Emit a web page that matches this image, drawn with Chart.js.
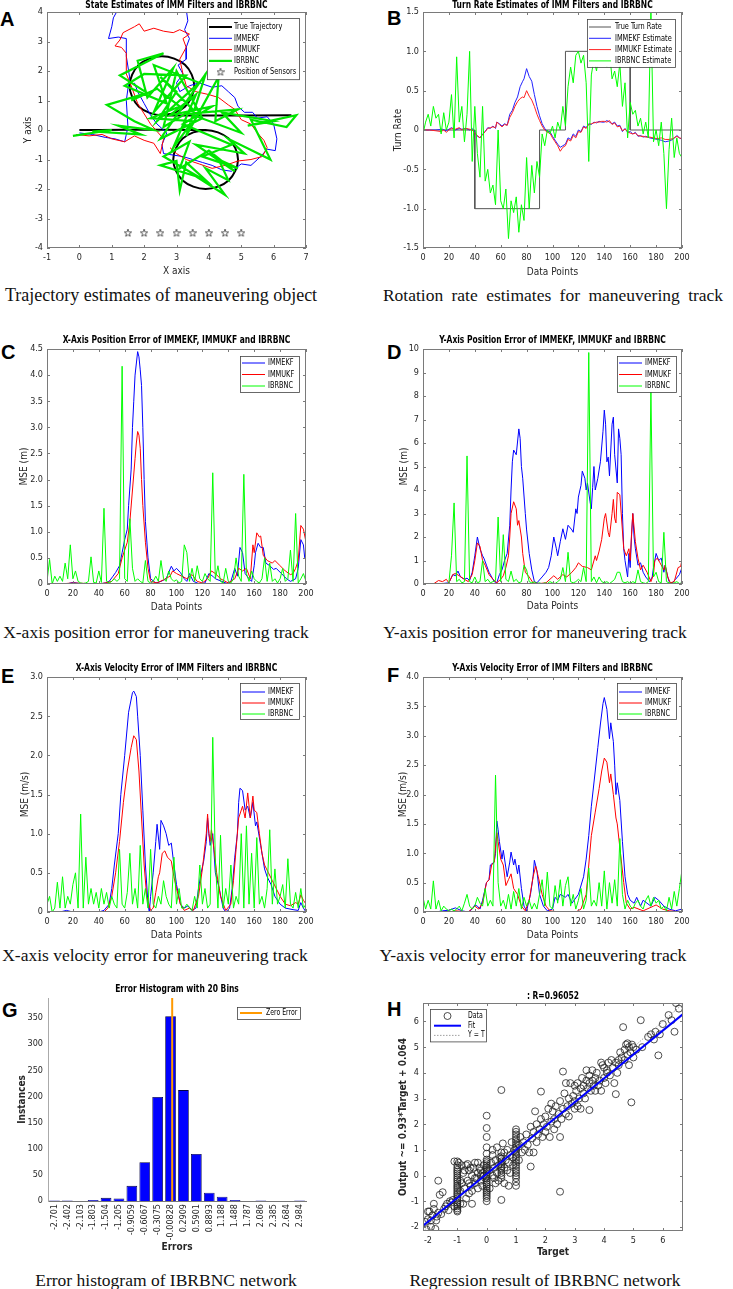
<!DOCTYPE html>
<html>
<head>
<meta charset="utf-8">
<script src="https://cdn.jsdelivr.net/npm/chart.js@4.4.1/dist/chart.umd.min.js"></script>
<style>
body { margin: 0; background: #fff; width: 733px; height: 1289px; position: relative; overflow: hidden; }
canvas { position: absolute; }
.cap { position: absolute; width: 366px; text-align: center; font: 17.5px 'Liberation Serif', 'Times New Roman', serif; color: #111; line-height: 20px; white-space: nowrap; }
.tag { position: absolute; font: bold 20px 'Liberation Sans', Arial, sans-serif; line-height: 20px; color: #000; }
</style>
</head>
<body>
<div class="tag" style="left:0px;top:9px">A</div>
<div class="tag" style="left:387px;top:8px">B</div>
<div class="tag" style="left:1px;top:342px">C</div>
<div class="tag" style="left:387px;top:342px">D</div>
<div class="tag" style="left:1px;top:666px">E</div>
<div class="tag" style="left:387px;top:665px">F</div>
<div class="tag" style="left:2px;top:1000px">G</div>
<div class="tag" style="left:387px;top:999px">H</div>

<div class="cap" style="left:-22px;top:285px;font-size:18px">Trajectory estimates of maneuvering object</div>
<div class="cap" style="left:370px;top:285px;word-spacing:4px">Rotation rate estimates for maneuvering track</div>
<div class="cap" style="left:-27px;top:622px">X-axis position error for maneuvering track</div>
<div class="cap" style="left:352px;top:622px">Y-axis position error for maneuvering track</div>
<div class="cap" style="left:-28px;top:945px">X-axis velocity error for maneuvering track</div>
<div class="cap" style="left:350px;top:945px;font-size:17.7px">Y-axis velocity error for maneuvering track</div>
<div class="cap" style="left:-17px;top:1270px">Error histogram of IBRBNC network</div>
<div class="cap" style="left:362px;top:1270px">Regression result of IBRBNC network</div>

<script>
// ---------- A: state estimates (x, y pairs, null = gap) ----------
const trueTrajectory = [[0,0],[3.9,0],[4.28,-0.08],[4.61,-0.29],[4.82,-0.62],[4.9,-1],[4.82,-1.38],[4.61,-1.71],[4.28,-1.92],[3.9,-2],[3.52,-1.92],[3.19,-1.71],[2.98,-1.38],[2.9,-1],[2.98,-0.62],[3.19,-0.29],[3.52,-0.08],[3.9,0],null,
  [2.55,0.5],[2.93,0.58],[3.26,0.79],[3.47,1.12],[3.55,1.5],[3.47,1.88],[3.26,2.21],[2.93,2.42],[2.55,2.5],[2.17,2.42],[1.84,2.21],[1.63,1.88],[1.55,1.5],[1.63,1.12],[1.84,0.79],[2.17,0.58],[2.55,0.5],[6.55,0.5]];
const ekfTrack = [[0,-0.1],[0.4,-0.15],[0.8,-0.25],[1.1,-0.3],[1.4,-0.4],[1.5,0.1],[1.45,1.0],[1.55,1.8],[1.45,2.5],[1.45,3.1],[1.2,3.15],[0.9,3.1],[1.0,3.5],[1.05,3.8],[1.2,4.1],[1.35,4.3],[2.5,4.5],[3.3,4.1],[3.35,3.7],[3.25,3.4],[3.4,3.1],[3.3,2.8],[3.3,2.4],[3.05,2.2],[3.2,1.9],[3.0,1.6],[3.1,1.3],[3.4,1.5],[3.7,1.6],[4.1,1.45],[4.4,1.5],[4.6,1.3],[4.8,1.1],[4.9,0.8],[5.1,0.6],[5.35,0.6],[5.5,0.4],[5.8,0.45],[6.0,0.2],[6.1,-0.3],[6.05,-0.7],[5.8,-0.65],[5.6,-0.9],[5.3,-1.2],[5.0,-1.15],[4.7,-1.4],[4.4,-1.35],[4.1,-1.2],[3.8,-1.1],[3.5,-1.0],[3.2,-0.9],[2.9,-0.85],[2.6,-0.8],[2.55,-0.5],[2.7,-0.1],[2.4,0.2],[2.2,0.5],[2.0,0.9],[1.8,1.3],[1.7,1.6]];
const ukfTrack = [[-0.1,-0.15],[0.3,-0.2],[0.7,-0.15],[1.0,-0.3],[1.4,-0.4],[1.7,-0.2],[2.0,-0.35],[2.3,-0.45],[2.5,-0.8],[2.6,-0.3],[2.2,0.2],[1.8,0.9],[1.6,1.5],[1.45,1.9],[1.45,2.6],[1.3,2.8],[1.1,2.85],[1.25,3.05],[1.35,3.3],[1.7,3.5],[1.85,3.6],[2.0,3.35],[2.3,3.45],[2.6,3.35],[2.9,3.3],[3.1,3.4],[3.4,3.25],[3.2,3.1],[3.3,2.8],[3.1,2.4],[3.2,1.9],[3.3,1.5],[3.6,1.3],[4.0,1.2],[4.3,1.1],[4.6,0.85],[4.8,0.7],[5.0,0.35],[5.3,0.2],[5.5,-0.1],[5.7,-0.35],[5.8,-0.6],[5.65,-0.9],[5.3,-1.0],[4.9,-1.05],[4.5,-1.2],[4.1,-1.3],[3.7,-1.15],[3.3,-1.0],[3.0,-0.8],[2.8,-0.6]];
const ibrbncTrack = [[-0.2,-0.2],[1.0,0.0],[0.4,-0.05],[1.9,-0.15],[1.2,0.15],[2.3,0.0],[1.7,0.3],[0.85,0.85],[2.1,1.25],[1.25,1.85],[2.6,2.6],[1.8,2.35],[2.1,1.1],[2.9,2.1],[2.3,0.6],[3.3,1.85],[2.0,1.9],[1.4,1.5],[2.7,0.9],[2.3,2.2],[3.7,1.6],[2.4,0.3],[3.0,1.3],[2.5,1.8],[3.5,0.7],[2.6,0.1],[3.0,2.0],[3.8,0.4],[2.5,-0.3],[3.9,1.9],[3.3,-0.2],[4.3,1.8],[4.2,0.3],[4.9,0.7],[3.4,0.55],[5.0,-0.1],[4.4,0.6],[6.0,0.3],[5.2,0.15],[6.7,0.5],[6.4,0.1],[5.3,0.35],[5.9,-1.0],[4.6,-0.3],[5.1,-0.8],[3.6,-0.5],[4.8,-1.4],[4.0,-0.7],[3.1,-1.3],[3.4,-0.4],[2.6,-0.9],[3.7,-1.6],[2.5,-1.2],[3.0,-1.05],[3.1,-2.05],[3.3,-1.1],[4.1,-1.9],[3.5,-1.5],[4.5,-2.2],[3.9,-1.3],[4.6,-1.7],[4.3,-1.0],[4.9,-1.3],[3.8,-0.9],[4.7,-0.5],[3.2,0.2],[4.1,0.8],[2.8,0.5],[3.6,1.2],[2.9,-0.6],[3.5,0.3],[2.2,0.4],[3.1,0.8],[2.4,1.4],[1.6,1.0]];
const sensorX = [1.5, 2, 2.5, 3, 3.5, 4, 4.5, 5];
const sensorY = [-3.5, -3.5, -3.5, -3.5, -3.5, -3.5, -3.5, -3.5];

// ---------- B: turn rate (x = data point) ----------
const trueTurnRate = [[0,0],[40,0],[40,-1],[90,-1],[90,0],[110,0],[110,1],[160,1],[160,0],[200,0]];
const ekfTurnRate = [[0,0],[5,0],[10,0],[15,0.01],[18,-0.01],[22,0.03],[25,0.0],[28,0.02],[30,0.01],[33,0.02],[36,0.0],[38,0.02],[40,-0.03],[42,-0.08],[44,-0.1],[46,-0.05],[48,-0.02],[50,0.03],[52,0.02],[54,0.05],[56,0.02],[57,0.1],[59,0.08],[61,0.05],[63,0.08],[65,0.06],[67,0.2],[69,0.25],[71,0.35],[73,0.42],[75,0.55],[77,0.62],[78,0.65],[80,0.78],[82,0.68],[84,0.62],[86,0.45],[88,0.3],[90,0.18],[92,0.08],[94,0.02],[96,-0.02],[98,-0.02],[100,-0.08],[102,-0.13],[104,-0.18],[106,-0.22],[108,-0.2],[110,-0.18],[112,-0.1],[114,-0.12],[116,-0.05],[118,-0.08],[120,0.0],[122,-0.02],[124,0.05],[126,0.03],[128,0.08],[130,0.07],[132,0.1],[134,0.09],[136,0.11],[138,0.1],[140,0.1],[142,0.12],[144,0.1],[146,0.08],[148,0.1],[150,0.05],[152,0.06],[154,-0.02],[156,0.02],[158,-0.03],[160,-0.02],[162,-0.05],[164,-0.03],[166,-0.08],[168,-0.07],[170,-0.09],[172,-0.08],[175,-0.1],[178,-0.11],[181,-0.12],[184,-0.13],[187,-0.15],[190,-0.14],[193,-0.12],[196,-0.07],[198,-0.1],[200,-0.12]];
const ukfTurnRate = [[0,0],[5,0],[10,-0.01],[14,-0.02],[16,0.0],[18,-0.03],[20,0.0],[22,0.02],[25,0.01],[28,0.03],[30,0.0],[33,0.02],[36,0.01],[38,0.0],[40,-0.04],[42,-0.07],[44,-0.1],[46,-0.06],[48,-0.02],[50,0.02],[52,0.03],[54,0.04],[56,0.03],[57,0.1],[59,0.07],[61,0.04],[63,0.07],[65,0.06],[67,0.16],[69,0.22],[71,0.3],[73,0.36],[75,0.4],[77,0.42],[78,0.41],[80,0.5],[82,0.43],[84,0.38],[86,0.3],[88,0.2],[90,0.12],[92,0.05],[94,0.0],[96,-0.03],[98,-0.04],[100,-0.1],[102,-0.15],[104,-0.2],[106,-0.27],[108,-0.22],[110,-0.2],[112,-0.12],[114,-0.14],[116,-0.07],[118,-0.1],[120,-0.02],[122,-0.03],[124,0.04],[126,0.02],[128,0.07],[130,0.08],[132,0.09],[134,0.1],[136,0.1],[138,0.11],[140,0.11],[142,0.1],[144,0.12],[146,0.07],[148,0.09],[150,0.04],[152,0.05],[154,-0.01],[156,0.01],[158,-0.02],[160,-0.04],[162,-0.05],[164,-0.04],[166,-0.07],[168,-0.08],[170,-0.08],[172,-0.09],[175,-0.09],[178,-0.1],[181,-0.11],[184,-0.1],[187,-0.12],[190,-0.12],[193,-0.11],[196,-0.08],[198,-0.1],[200,-0.11]];
// IBRBNC series below are read every 2nd data point (x = 0, 2, ..., 200)
const ibrbncTurnRate = [
  -0.05,0.1,0.2,0.05,0.3,0.15,0.2,-0.05,0.22,0.0,
  0.1,0.45,-0.1,0.93,0.1,0.3,-0.15,0.2,1.0,-0.4,
  0.3,-0.3,-0.6,0.3,-0.65,-0.5,-0.8,-0.7,-0.95,0.0,
  -0.9,-1.0,-0.75,-1.38,-0.9,-1.05,-0.85,-1.3,-0.95,-1.15,
  -0.35,-1.0,-0.45,-0.8,-0.4,-0.6,-0.05,-0.2,0.0,-0.05,
  0.05,-0.1,0.1,0.0,0.3,0.05,0.55,0.8,0.6,0.95,
  1.0,0.85,0.95,0.6,-0.4,0.7,0.9,0.75,1.0,0.85,
  0.9,0.8,1.0,0.65,0.75,0.55,0.85,0.3,0.6,-0.1,
  0.35,0.2,0.25,0.05,0.15,-0.05,0.1,-0.1,1.55,-0.15,
  0.0,-0.2,0.1,-0.3,-1.0,-0.25,0.15,-0.35,-0.1,-0.3,
  -0.35];

// ---------- C: X-axis position MSE ----------
const ekfPosX = [[0,0],[10,0.01],[15,0.0],[20,0.03],[25,0.01],[30,0.0],[35,0.01],[40,0.0],[45,0.02],[48,0.05],[51,0.15],[53,0.22],[56,0.35],[58,0.6],[60,0.85],[62,1.05],[63,1.5],[65,2.2],[66,3.0],[67,3.5],[68,4.0],[70,4.45],[71,4.35],[72,4.1],[73,3.8],[74,3.0],[75,2.0],[76,1.2],[78,0.5],[80,0.1],[84,0.02],[88,0.05],[92,0.1],[96,0.34],[98,0.25],[100,0.3],[103,0.22],[106,0.1],[108,0.05],[110,0.2],[113,0.05],[118,0.0],[122,0.02],[125,0.2],[128,0.15],[130,0.1],[135,0.05],[140,0.0],[142,0.05],[145,0.3],[147,0.15],[149,0.7],[151,0.6],[153,0.2],[156,0.1],[158,0.05],[160,0.35],[161,0.6],[163,0.78],[165,0.7],[167,0.7],[169,0.4],[172,0.35],[175,0.28],[177,0.3],[181,0.2],[185,0.1],[188,0.05],[192,0.1],[194,0.3],[196,0.85],[198,0.75],[199,0.5],[200,0.45]];
const ukfPosX = [[0,0],[10,0.0],[20,0.02],[30,0.01],[40,0.0],[45,0.02],[50,0.05],[55,0.2],[58,0.5],[62,0.8],[64,1.2],[66,1.8],[68,2.4],[69,2.7],[70,2.92],[71,2.85],[72,2.6],[73,2.0],[74,1.5],[76,0.8],[78,0.3],[80,0.05],[85,0.02],[90,0.08],[95,0.15],[97,0.25],[100,0.2],[104,0.15],[108,0.1],[112,0.18],[116,0.05],[120,0.02],[124,0.1],[127,0.25],[130,0.2],[134,0.1],[140,0.02],[145,0.1],[148,0.3],[151,0.25],[154,0.3],[157,0.1],[159,0.75],[160,0.6],[162,0.98],[164,0.9],[165,0.92],[167,0.55],[170,0.45],[174,0.4],[176,0.45],[180,0.35],[184,0.25],[188,0.18],[190,0.2],[192,0.3],[194,0.45],[196,1.12],[198,1.05],[200,0.8]];
const ibrbncPosX = [
  0.05,0.47,0.0,0.15,0.05,0.15,0.05,0.4,0.1,0.75,
  0.1,0.25,0.05,0.02,0.01,0.02,0.05,0.52,0.03,0.02,
  0.25,0.03,1.45,0.05,0.02,0.05,0.1,0.05,0.1,4.17,
  0.1,0.05,1.25,0.3,0.05,0.1,0.05,0.02,0.45,0.05,
  0.02,0.05,0.15,0.05,0.45,0.1,0.05,0.25,0.1,0.05,
  0.08,0.02,0.05,0.75,0.6,0.05,0.3,0.05,0.35,0.1,
  0.05,0.2,0.1,0.05,2.13,0.1,0.35,0.05,0.02,0.3,
  0.05,0.02,0.1,0.5,0.15,0.05,2.1,0.2,0.05,0.25,
  0.1,0.05,0.02,0.1,0.5,0.05,0.4,0.05,0.1,0.02,
  0.1,0.3,0.05,0.1,0.65,0.05,1.35,0.02,0.1,0.2,
  0.05];

// ---------- D: Y-axis position MSE ----------
const ekfPosY = [[0,0],[10,0.0],[15,0.02],[20,0.05],[23,0.4],[25,0.35],[27,0.55],[29,0.3],[32,0.2],[34,0.25],[36,0.15],[38,0.5],[40,1.2],[42,2.0],[44,1.5],[46,1.2],[47,1.1],[49,0.8],[51,0.5],[53,0.3],[55,0.1],[57,0.05],[59,0.4],[61,0.6],[63,1.0],[65,1.3],[67,2.5],[68,4.0],[69,5.2],[70,5.7],[72,5.5],[74,6.6],[75,6.2],[76,5.0],[77,4.5],[79,3.0],[80,2.3],[82,1.3],[84,0.6],[86,0.1],[88,0.05],[92,0.3],[95,0.5],[97,0.7],[99,1.2],[101,2.0],[103,1.5],[104,1.2],[106,1.8],[108,2.35],[110,1.9],[112,2.5],[115,2.3],[116,2.2],[118,3.2],[119,3.0],[120,3.7],[122,4.2],[123,4.8],[125,4.5],[126,4.0],[127,4.3],[129,3.5],[130,3.2],[131,4.1],[132,5.0],[133,4.0],[135,4.5],[137,5.2],[139,6.5],[140,7.4],[141,6.8],[142,5.2],[143,5.4],[144,4.6],[146,6.8],[147,7.1],[148,5.5],[150,4.3],[151,6.6],[152,6.2],[153,5.5],[154,3.0],[155,1.5],[156,1.0],[158,0.3],[159,1.3],[160,0.7],[161,2.0],[162,3.0],[163,2.0],[164,1.5],[166,0.8],[168,0.9],[170,0.5],[172,0.3],[175,0.1],[177,0.3],[178,0.7],[180,1.3],[182,1.0],[184,1.1],[186,0.5],[187,0.8],[189,0.3],[190,0.1],[192,0.02],[195,0.2],[198,0.4],[200,0.7]];
const ukfPosY = [[0,0],[8,0.0],[12,0.15],[15,0.1],[18,0.2],[20,0.05],[23,0.4],[25,0.45],[28,0.35],[32,0.2],[35,0.1],[38,0.4],[40,1.0],[42,1.75],[44,1.6],[46,1.0],[48,0.8],[51,0.4],[54,0.2],[57,0.05],[60,0.2],[62,0.35],[64,0.7],[66,1.2],[67,2.0],[68,3.0],[70,3.5],[72,3.2],[73,2.5],[74,2.7],[76,2.0],[77,1.3],[79,0.5],[82,0.3],[85,0.05],[90,0.02],[95,0.05],[101,0.35],[104,0.2],[108,0.4],[111,0.3],[115,0.5],[118,0.7],[120,0.9],[123,0.75],[127,0.7],[130,0.6],[133,1.2],[134,1.0],[136,1.4],[138,1.9],[140,2.8],[141,3.0],[143,2.2],[144,2.0],[146,3.0],[147,3.6],[148,2.8],[149,2.6],[150,3.9],[152,3.8],[155,1.5],[157,1.2],[159,1.5],[160,1.0],[161,2.1],[162,3.0],[164,1.8],[166,1.1],[168,0.6],[170,0.8],[173,0.5],[176,0.1],[178,0.4],[179,1.0],[181,1.1],[183,0.9],[186,0.6],[187,0.8],[189,0.3],[191,0.05],[194,0.1],[197,0.7],[199,0.75],[200,1.05]];
const ibrbncPosY = [
  0.02,0.0,0.02,0.0,0.01,0.02,0.0,0.01,0.02,0.0,
  0.05,1.2,3.45,0.1,0.2,0.05,0.1,5.45,0.1,0.05,
  0.3,0.05,0.1,1.0,0.1,0.2,0.05,0.1,0.15,2.85,
  0.1,2.1,0.2,0.1,0.55,0.1,0.2,0.05,0.1,0.8,
  0.6,0.1,0.05,0.1,0.02,0.05,0.0,0.05,0.02,0.1,
  0.05,0.02,0.1,0.2,0.7,0.1,1.35,0.1,0.05,0.1,
  0.2,0.1,0.7,0.1,9.85,0.1,0.3,0.05,0.3,0.1,
  0.05,0.1,0.02,0.1,0.2,0.5,0.5,0.1,0.05,0.1,
  0.02,0.1,0.05,0.6,0.1,0.05,0.02,0.1,8.2,0.3,
  0.5,0.1,0.05,2.2,0.1,0.05,0.02,0.05,0.1,0.02,
  0.05];

// ---------- E: X-axis velocity MSE ----------
const ekfVelX = [[0,0],[10,0.0],[15,0.02],[20,0.0],[30,0.0],[40,0.0],[44,0.02],[48,0.1],[50,0.3],[52,0.6],[55,1.0],[57,1.5],[60,2.0],[63,2.55],[66,2.8],[67,2.82],[69,2.75],[70,2.5],[72,2.0],[74,1.3],[76,0.6],[78,0.1],[79,0.0],[80,0.2],[82,0.5],[84,0.9],[85,1.12],[87,0.8],[88,1.17],[90,1.1],[92,1.0],[94,0.85],[96,0.88],[98,0.6],[100,0.35],[103,0.1],[106,0.05],[109,0.08],[112,0.02],[115,0.05],[117,0.3],[119,0.5],[121,0.65],[123,0.9],[124,1.2],[125,1.0],[126,0.85],[128,1.0],[130,0.5],[133,0.3],[136,0.05],[138,0.0],[141,0.05],[143,0.3],[145,0.7],[147,1.0],[148,1.4],[149,1.58],[151,1.55],[153,1.3],[155,1.35],[157,1.2],[159,1.4],[161,1.1],[162,1.15],[165,0.85],[168,0.55],[170,0.45],[173,0.35],[176,0.2],[180,0.1],[184,0.05],[190,0.03],[194,0.02],[196,0.12],[198,0.05],[200,0.0]];
const ukfVelX = [[0,0],[20,0.0],[44,0.0],[47,0.05],[50,0.2],[53,0.5],[56,0.9],[59,1.4],[62,1.8],[65,2.1],[67,2.25],[69,2.2],[71,1.8],[73,1.2],[75,0.6],[77,0.2],[80,0.02],[82,0.05],[84,0.25],[86,0.45],[87,0.5],[89,0.75],[91,0.78],[93,0.7],[96,0.65],[98,0.45],[100,0.3],[103,0.1],[106,0.02],[110,0.05],[113,0.02],[117,0.2],[120,0.55],[121,0.7],[123,1.0],[124,1.25],[125,1.0],[126,0.9],[127,1.05],[129,0.8],[131,0.5],[134,0.2],[138,0.02],[142,0.1],[144,0.4],[146,0.8],[148,1.2],[151,1.35],[153,1.2],[155,1.52],[157,1.2],[159,1.48],[160,1.3],[162,1.27],[164,1.0],[166,0.75],[168,0.6],[171,0.5],[174,0.4],[177,0.3],[180,0.2],[184,0.1],[188,0.08],[192,0.12],[194,0.1],[196,0.22],[198,0.15],[200,0.1]];
const ibrbncVelX = [
  0.1,0.2,0.0,0.05,0.38,0.05,0.45,0.05,0.2,0.1,
  0.35,0.5,0.05,1.25,0.05,0.7,0.1,0.3,0.1,0.25,
  0.05,0.3,0.1,0.25,0.05,0.2,0.1,0.05,0.8,0.1,
  0.05,0.25,0.75,0.1,0.3,0.05,0.85,0.1,0.3,0.05,
  0.8,0.1,0.05,0.2,0.1,0.4,0.2,0.1,0.05,0.7,
  0.1,0.3,0.05,0.05,0.1,0.05,0.02,0.2,0.05,0.6,
  0.1,0.3,0.05,0.1,2.23,0.65,0.05,0.98,0.05,0.3,
  0.1,0.6,0.05,0.2,0.1,1.0,0.05,1.1,0.1,0.75,
  0.05,0.95,0.1,0.2,0.05,0.3,1.05,0.1,0.55,0.1,
  0.2,0.35,0.05,0.68,0.1,0.05,0.25,0.05,0.3,0.05,
  0.1];

// ---------- F: Y-axis velocity MSE ----------
const ekfVelY = [[0,0],[10,0.0],[15,0.02],[20,0.03],[25,0.07],[30,0.02],[35,0.0],[38,0.05],[40,0.12],[42,0.1],[44,0.05],[46,0.2],[49,0.5],[51,0.55],[52,0.8],[55,0.85],[56,1.0],[57,1.55],[58,1.4],[59,1.2],[61,0.9],[62,1.05],[64,0.75],[65,0.6],[67,0.85],[68,1.02],[70,0.8],[71,0.9],[73,0.65],[74,0.8],[76,0.4],[78,0.1],[80,0.02],[83,0.3],[85,0.6],[86,0.88],[88,0.7],[90,0.3],[93,0.1],[96,0.02],[100,0.05],[102,0.25],[104,0.2],[106,0.3],[110,0.25],[112,0.3],[115,0.15],[120,0.3],[124,0.6],[126,0.9],[128,1.3],[130,1.8],[133,2.4],[135,2.8],[137,3.2],[139,3.55],[140,3.65],[142,3.45],[144,2.95],[145,3.22],[147,2.9],[148,2.5],[149,2.0],[150,2.2],[152,1.9],[154,1.2],[156,0.6],[158,0.3],[160,0.2],[163,0.15],[165,0.25],[168,0.1],[170,0.2],[173,0.15],[176,0.1],[179,0.25],[182,0.2],[186,0.1],[190,0.05],[195,0.02],[200,0.05]];
const ukfVelY = [[0,0],[20,0.0],[25,0.02],[35,0.0],[40,0.1],[43,0.05],[46,0.15],[49,0.5],[51,0.55],[53,0.8],[55,0.85],[57,1.35],[58,1.2],[60,0.9],[62,0.8],[64,0.45],[66,0.55],[68,0.65],[70,0.4],[73,0.3],[76,0.1],[79,0.02],[82,0.2],[85,0.6],[87,0.78],[89,0.6],[92,0.3],[95,0.1],[98,0.02],[105,0.0],[118,0.0],[122,0.05],[126,0.3],[128,0.8],[130,1.3],[133,1.7],[136,2.1],[138,2.4],[140,2.62],[142,2.55],[144,2.2],[145,2.35],[147,2.0],[149,1.6],[150,1.5],[152,1.1],[155,0.5],[157,0.15],[160,0.05],[163,0.08],[170,0.02],[178,0.1],[180,0.12],[185,0.05],[190,0.02],[200,0.0]];
const ibrbncVelY = [
  0.25,0.05,0.2,0.05,0.53,0.05,0.2,0.02,0.1,0.05,
  0.02,0.05,0.02,0.05,0.1,0.02,0.15,0.3,0.1,0.05,
  0.1,0.25,0.15,0.1,0.4,0.1,0.2,0.1,2.33,0.5,
  0.1,0.2,0.05,0.3,0.05,0.35,0.1,0.4,0.05,0.25,
  0.1,0.2,0.05,0.15,0.05,0.3,0.55,0.1,0.68,0.1,
  0.05,0.45,0.15,0.55,0.1,0.45,0.6,0.1,0.3,0.05,
  0.2,0.4,0.05,0.2,0.75,0.1,0.2,0.1,0.5,0.1,
  0.7,0.05,0.5,0.15,0.55,0.1,1.25,0.3,0.05,0.2,
  0.1,0.05,0.15,0.2,0.1,0.05,0.2,0.28,0.1,0.25,
  0.15,0.2,0.05,0.1,0.02,0.25,0.05,0.35,0.1,0.4,
  0.72];

// ---------- G: error histogram ----------
const errBins = ['-2.701','-2.402','-2.103','-1.803','-1.504','-1.205','-0.9059','-0.6067','-0.3075','-0.00828','0.2909','0.5901','0.8893','1.188','1.488','1.787','2.086','2.385','2.684','2.984'];
const errCounts = [1, 1, 0, 2, 6, 5, 29, 74, 199, 353, 212, 90, 16, 8, 2, 0, 1, 0, 0, 1];

// ---------- H: regression (target, output) ----------
const regBand = [[-2.1,-1.8],[-2.05,-2.1],[-2.0,-1.7],[-1.95,-1.4],[-1.9,-1.75],[-1.85,-1.55],[-1.8,-1.3],[-1.75,-2.08],[-1.7,-1.6],[-1.65,-1.45],[-1.6,-0.75],[-1.65,-0.2],[-1.55,-1.5],[-1.5,-0.65],[-1.45,-1.3],[-1.4,-1.2],[-1.35,-1.1],[-1.3,-1.35],[-1.25,-1.0],[-1.2,-1.05],[-1.15,-0.95],[-1.1,0.55],[-1.1,-1.2],[-2.0,-1.4],[-1.9,-2.0],[-1.8,-1.1],[-1.72,-1.75],
  [-0.9,-0.6],[-0.85,-0.3],[-0.8,0.1],[-0.8,-1.1],[-0.75,-0.5],[-0.7,0.4],[-0.7,-0.9],[-0.65,-0.2],[-0.6,0.2],[-0.6,-0.7],[-0.55,-0.4],[-0.5,0.0],[-0.5,-0.6],[-0.45,0.3],[-0.4,-0.3],[-0.4,0.5],[-0.35,-0.1],[-0.3,0.1],[-0.3,-0.5],[-0.25,0.3],[-0.2,-0.2],[-0.2,0.2],[-0.15,-0.4],[-0.1,0.0],[-0.1,0.4],[-0.05,-0.1],[-0.5,-1.1],[-0.9,-1.1],[-0.95,0.5],[-0.85,0.4],[-0.75,0.2],[-0.65,0.45],[-0.55,0.3],[-0.3,0.5],[-0.15,0.1],[-0.9,-0.2],[-0.6,-0.3],[-0.4,-0.1],[-0.2,0.0],
  [0.1,0.2],[0.1,-0.5],[0.15,0.5],[0.2,0.0],[0.2,0.8],[0.25,0.3],[0.3,-0.3],[0.3,0.6],[0.35,0.1],[0.35,1.1],[0.4,0.4],[0.4,-0.2],[0.45,0.7],[0.55,1.25],[0.5,-0.95],[0.5,3.33],[0.6,0.3],[0.6,0.9],[0.65,0.6],[0.7,0.2],[0.7,1.0],[0.75,0.5],[0.8,0.8],[0.8,0.1],[0.85,1.3],[0.9,0.4],[0.9,0.7],[0.95,1.0],[0.6,-0.3],[0.75,-0.4],[0.2,1.0],[0.25,-0.1],
  [1.1,1.2],[1.1,0.6],[1.15,1.5],[1.2,0.9],[1.25,1.3],[1.3,1.0],[1.35,1.6],[1.4,1.2],[1.45,0.9],[1.5,1.9],[1.5,0.35],[1.55,1.45],[1.6,1.7],[1.65,2.5],[1.7,1.3],[1.7,2.0],[1.75,1.6],[1.8,1.8],[1.85,2.2],[1.85,3.27],[1.9,1.5],[1.95,2.0],[2.0,1.7],[2.0,2.3],[2.05,1.9],[2.1,2.6],[2.15,1.5],[2.2,2.1],[2.25,2.5],[2.3,1.8],[2.3,2.2],[2.35,2.7],[2.4,2.0],[2.45,2.4],[2.5,2.9],[2.5,1.5],[2.5,-0.63],[2.55,2.2],[2.6,4.05],[2.6,2.6],[2.65,3.2],[2.7,2.4],[2.75,2.7],[2.8,3.0],[2.8,2.3],[2.85,3.6],[2.9,2.8],[2.95,3.1],[3.0,2.6],[3.0,3.5],[3.0,2.9],[3.05,3.3],[3.1,2.7],[3.1,3.6],[3.15,3.0],[3.2,3.4],[3.2,2.6],[3.25,3.8],[3.3,3.2],[3.3,3.5],[3.35,3.0],[3.4,3.7],[3.4,4.1],[3.45,3.4],[3.5,3.6],[3.5,2.55],[3.5,3.9],[3.55,3.3],[3.6,3.7],[3.6,4.1],[3.65,3.5],[3.7,3.8],[3.7,3.3],[3.75,4.0],[3.8,3.5],[3.85,3.7],[3.9,4.4],[3.9,3.3],[4.0,3.8],[4.0,4.2],[4.05,3.6],[4.1,4.0],[4.15,4.4],[4.2,3.9],[4.25,4.5],[4.3,4.2],[4.35,3.6],[4.4,3.17],[4.4,4.4],[4.45,4.0],[4.5,4.5],[4.5,4.3],[4.55,4.8],[4.6,4.6],[4.65,5.78],[4.7,4.5],[4.7,4.9],[4.75,5.1],[4.8,4.7],[4.8,5.15],[4.85,4.3],[4.85,5.0],[4.9,4.8],[4.93,2.85],[4.95,5.1],[5.0,4.6],[5.0,5.0],[5.1,4.9],[5.25,6.05],[5.3,5.0],[5.5,5.4],[5.6,5.5],[5.7,5.3],[5.75,5.6],[5.85,4.68],[5.9,5.5],[6.0,5.9],[6.2,6.25],[6.3,6.05],[6.4,5.6],[6.45,6.72],[6.55,6.5],[4.1,4.1],[3.95,4.3],[2.2,2.8],[1.6,0.9],[2.7,3.6]];
// dense vertical stacks of outputs at the discrete targets -1, 0, 0.5 and 1
const stackMinus1 = [-1.4,-1.35,-1.28,-1.2,-1.12,-1.05,-0.98,-0.9,-0.83,-0.75,-0.68,-0.6,-0.52,-0.45,-0.38,-0.3,-0.22,-0.15,-0.08,0.0,0.08,0.15,0.22,0.3,0.4,0.55];
const stackZero = [-1.0,-0.88,-0.8,-0.72,-0.65,-0.58,-0.5,-0.42,-0.35,-0.28,-0.2,-0.12,-0.05,0.02,0.1,0.18,0.25,0.32,0.4,0.48,0.55,0.62,0.85,1.1,1.5,1.85,2.33];
const stackHalf = [-0.1,0.0,0.1,0.2,0.28,0.36,0.45,0.55,0.65,0.75,0.9];
const stackOne = [-0.4,-0.25,-0.1,0.0,0.1,0.2,0.3,0.4,0.5,0.6,0.7,0.8,0.9,1.0,1.1,1.2,1.3,1.4,1.5,1.6,1.7,1.8];
const fitLine = [[-2.17,-1.954],[6.69,6.286]];
const identityLine = [[-2.17,-2.17],[6.69,6.69]];

// ================= drawing =================
const NARROW = "'Liberation Sans Narrow', 'Arial Narrow', 'DejaVu Sans Condensed', sans-serif";
Chart.defaults.font.family = NARROW;
Chart.defaults.font.size = 9;
Chart.defaults.color = '#262626';
Chart.defaults.animation = false;
Chart.defaults.responsive = false;
Chart.defaults.plugins.legend.display = false;
Chart.defaults.plugins.tooltip.enabled = false;

const pairs = arr => arr.map(p => p ? { x: p[0], y: p[1] } : { x: null, y: null });
const every2 = arr => arr.map((v, i) => ({ x: i * 2, y: v }));

// text squeezed horizontally, like the exported MATLAB figure
function squeezed(ctx, text, x, y, sx) {
  ctx.save();
  ctx.translate(x, y);
  ctx.scale(sx, 1);
  ctx.fillText(text, 0, 0);
  ctx.restore();
}

// MATLAB-like box with inward ticks
const matlabBox = {
  id: 'matlabBox',
  afterDraw(chart, args, opts) {
    if (opts.off) return;
    const { ctx, chartArea: a } = chart;
    const xs = chart.scales.x, ys = chart.scales.y;
    ctx.save();
    ctx.strokeStyle = '#7a7a7a';
    ctx.lineWidth = 1;
    ctx.strokeRect(a.left + 0.5, a.top + 0.5, a.width - 1, a.height - 1);
    ctx.beginPath();
    xs.ticks.forEach(t => {
      const p = Math.round(xs.getPixelForValue(t.value)) + 0.5;
      ctx.moveTo(p, a.bottom); ctx.lineTo(p, a.bottom - 3);
      ctx.moveTo(p, a.top); ctx.lineTo(p, a.top + 3);
    });
    ys.ticks.forEach(t => {
      const p = Math.round(ys.getPixelForValue(t.value)) + 0.5;
      ctx.moveTo(a.left, p); ctx.lineTo(a.left + 3, p);
      ctx.moveTo(a.right, p); ctx.lineTo(a.right - 3, p);
    });
    ctx.stroke();
    ctx.restore();
  }
};

// title centred over the plot area
const panelTitle = {
  id: 'panelTitle',
  afterDraw(chart, args, o) {
    if (!o.text) return;
    const { ctx, chartArea: a } = chart;
    ctx.save();
    ctx.font = 'bold 10.5px ' + NARROW;
    ctx.fillStyle = '#000';
    ctx.textAlign = 'center';
    ctx.textBaseline = 'middle';
    squeezed(ctx, o.text, (a.left + a.right) / 2, a.top - o.gap, 0.8);
    ctx.restore();
  }
};

// legend box inside the axes
const insetLegend = {
  id: 'insetLegend',
  afterDraw(chart, args, o) {
    if (!o.width) return;
    const { ctx, chartArea: a } = chart;
    const items = chart.data.datasets.filter(d => d.label);
    const h = o.first + (items.length - 1) * o.rowH + o.last;
    const x0 = o.left != null ? a.left + o.left : a.right - o.right - o.width;
    const y0 = a.top + o.top;
    ctx.save();
    ctx.fillStyle = '#fff';
    ctx.fillRect(x0, y0, o.width, h);
    ctx.strokeStyle = '#444';
    ctx.lineWidth = 0.8;
    ctx.strokeRect(x0 + 0.5, y0 + 0.5, o.width, h);
    ctx.font = (o.size || 8.5) + 'px ' + NARROW;
    ctx.textBaseline = 'middle';
    ctx.textAlign = 'left';
    items.forEach((d, i) => {
      const cy = y0 + o.first + i * o.rowH;
      const lx0 = x0 + o.pad, lx1 = lx0 + o.lineW;
      if (d.showLine) {
        ctx.save();
        ctx.strokeStyle = d.borderColor;
        ctx.lineWidth = d.borderWidth;
        ctx.setLineDash(d.borderDash || []);
        ctx.beginPath(); ctx.moveTo(lx0, cy); ctx.lineTo(lx1, cy); ctx.stroke();
        ctx.restore();
      } else {
        const cx = (lx0 + lx1) / 2;
        if (d.pointStyle instanceof HTMLCanvasElement) {
          ctx.drawImage(d.pointStyle, cx - d.pointStyle.width / 2, cy - d.pointStyle.height / 2);
        } else {
          ctx.beginPath();
          ctx.arc(cx, cy, d.pointRadius, 0, Math.PI * 2);
          ctx.strokeStyle = d.borderColor;
          ctx.lineWidth = d.borderWidth;
          ctx.stroke();
        }
      }
      ctx.fillStyle = '#000';
      squeezed(ctx, d.label, lx1 + o.gap, cy, 0.86);
    });
    ctx.restore();
  }
};
Chart.register(matlabBox, panelTitle, insetLegend);

function starMarker(size) {
  const c = document.createElement('canvas');
  c.width = c.height = size;
  const x = c.getContext('2d');
  x.strokeStyle = '#333';
  x.lineWidth = 0.8;
  x.beginPath();
  for (let i = 0; i < 10; i++) {
    const r = i % 2 ? size * 0.2 : size * 0.48;
    const ang = -Math.PI / 2 + i * Math.PI / 5;
    x.lineTo(size / 2 + r * Math.cos(ang), size / 2 + r * Math.sin(ang));
  }
  x.closePath();
  x.stroke();
  return c;
}

function axis(o) {
  return {
    type: 'linear', min: o.min, max: o.max,
    afterFit: s => { if (o.w) s.width = o.w; if (o.h) s.height = o.h; },
    ticks: { stepSize: o.step, includeBounds: false, autoSkip: false, maxRotation: 0, padding: o.pad ?? 4, font: { size: 9 } },
    grid: { display: false, drawTicks: false },
    border: { display: false },
    title: { display: !!o.title, text: o.title, padding: 0, font: { size: 10, weight: o.bold ? 'bold' : 'normal' } }
  };
}

function line(label, data, color, width, order, extra) {
  return Object.assign({ label, data, borderColor: color, backgroundColor: color, borderWidth: width,
    showLine: true, pointRadius: 0, fill: false, tension: 0, order }, extra);
}

// g: col, top (row top), plot [l, t, r, b], yW (y axis width), xH (x axis height)
function panel(g, config) {
  const colLeft = g.col * 366;
  const c = document.createElement('canvas');
  c.width = g.plot[2] + 14 - colLeft;
  c.height = g.plot[3] + g.xH - g.top;
  c.style.left = colLeft + 'px';
  c.style.top = g.top + 'px';
  document.body.appendChild(c);
  config.options.layout = { padding: { left: g.plot[0] - g.yW - colLeft, top: g.plot[1] - g.top, right: 14, bottom: 0 } };
  return new Chart(c, config);
}

function msePanel(g, title, yTitle, yMax, yStep, ekf, ukf, ibr, leg) {
  panel(g, {
    type: 'scatter',
    data: { datasets: [
      line('IMMEKF', pairs(ekf), '#0000ff', 1, 3),
      line('IMMUKF', pairs(ukf), '#ff0000', 1, 2),
      line('IBRBNC', every2(ibr), '#00ff00', 1, 1)
    ] },
    options: {
      scales: {
        x: axis({ min: 0, max: 200, step: 20, title: 'Data Points', h: g.xH }),
        y: axis({ min: 0, max: yMax, step: yStep, title: yTitle, w: g.yW })
      },
      plugins: { panelTitle: { text: title, gap: 9 }, insetLegend: leg }
    }
  });
}

// A
panel({ col: 0, top: 0, plot: [47, 12, 306, 248], yW: 25, xH: 29 }, {
  type: 'scatter',
  data: { datasets: [
    line('True Trajectory', pairs(trueTrajectory), '#000', 2, 4, { tension: 0.4 }),
    line('IMMEKF', pairs(ekfTrack), '#0000ff', 1, 3),
    line('IMMUKF', pairs(ukfTrack), '#ff0000', 1, 2),
    line('IBRBNC', pairs(ibrbncTrack), '#00e600', 2.2, 1),
    { label: 'Position of Sensors', data: sensorX.map((x, i) => ({ x, y: sensorY[i] })), showLine: false,
      pointStyle: starMarker(8), pointRadius: 4, order: 0 }
  ] },
  options: {
    scales: {
      x: axis({ min: -1, max: 7, step: 1, title: 'X axis', h: 29 }),
      y: axis({ min: -4, max: 4, step: 1, title: 'Y axis', w: 25 })
    },
    plugins: {
      panelTitle: { text: 'State Estimates of IMM Filters and IBRBNC', gap: 7 },
      insetLegend: { right: 7, top: 6, width: 92, first: 9, rowH: 11.3, last: 7, pad: 2, lineW: 23, gap: 2 }
    }
  }
});

// B
panel({ col: 1, top: 0, plot: [423, 12, 682, 248], yW: 31, xH: 30 }, {
  type: 'scatter',
  data: { datasets: [
    line('True Turn Rate', pairs(trueTurnRate), '#555', 1, 4),
    line('IMMEKF Estimate', pairs(ekfTurnRate), '#2222ff', 1, 3),
    line('IMMUKF Estimate', pairs(ukfTurnRate), '#ff2222', 1, 2),
    line('IBRBNC Estimate', every2(ibrbncTurnRate), '#00ff00', 1, 1)
  ] },
  options: {
    scales: {
      x: axis({ min: 0, max: 200, step: 20, title: 'Data Points', h: 30 }),
      y: axis({ min: -1.5, max: 1.5, step: 0.5, title: 'Turn Rate', w: 31 })
    },
    plugins: {
      panelTitle: { text: 'Turn Rate Estimates of IMM Filters and IBRBNC', gap: 7 },
      insetLegend: { right: 7, top: 7, width: 88, first: 8, rowH: 11.3, last: 6, pad: 2, lineW: 22, gap: 4 }
    }
  }
});

const legC = { right: 7, top: 7, width: 59, first: 7, rowH: 11.5, last: 6, pad: 2, lineW: 23, gap: 3 };
const legE = { right: 7, top: 6, width: 59, first: 9, rowH: 11, last: 5, pad: 2, lineW: 23, gap: 3 };

msePanel({ col: 0, top: 320, plot: [47, 349, 306, 584], yW: 29, xH: 29 },
  'X-Axis Position Error of IMMEKF, IMMUKF and IBRBNC', 'MSE (m)', 4.5, 0.5, ekfPosX, ukfPosX, ibrbncPosX, legC);
msePanel({ col: 1, top: 320, plot: [423, 349, 682, 584], yW: 25, xH: 28 },
  'Y-Axis Position Error of IMMEKF, IMMUKF and IBRBNC', 'MSE (m)', 10, 1, ekfPosY, ukfPosY, ibrbncPosY, Object.assign({}, legC, { right: 6 }));
msePanel({ col: 0, top: 640, plot: [47, 677, 306, 912], yW: 28, xH: 29 },
  'X-Axis Velocity Error of IMM Filters and IBRBNC', 'MSE (m/s)', 3, 0.5, ekfVelX, ukfVelX, ibrbncVelX, legE);
msePanel({ col: 1, top: 640, plot: [423, 677, 682, 912], yW: 26, xH: 29 },
  'Y-Axis Velocity Error of IMM Filters and IBRBNC', 'MSE (m/s)', 4, 0.5, ekfVelY, ukfVelY, ibrbncVelY, Object.assign({}, legE, { right: 6 }));

// G
const binWidth = Number(errBins[1]) - Number(errBins[0]);
const zeroAt = -Number(errBins[0]) / binWidth;
panel({ col: 0, top: 960, plot: [48, 998, 306, 1201], yW: 32, xH: 52 }, {
  type: 'bar',
  data: {
    labels: errBins,
    datasets: [
      { type: 'line', label: 'Zero Error', xAxisID: 'x2', data: [{ x: zeroAt, y: 0 }, { x: zeroAt, y: 388 }],
        borderColor: '#ff9900', borderWidth: 2, pointRadius: 0, showLine: true, order: 0 },
      { data: errCounts, backgroundColor: '#0000ff', borderColor: '#000044', borderWidth: 0.8,
        grouped: false, barPercentage: 0.83, categoryPercentage: 1, order: 1 }
    ]
  },
  options: {
    scales: {
      x: {
        type: 'category', offset: true,
        afterFit: s => { s.height = 52; },
        ticks: { autoSkip: false, minRotation: 90, maxRotation: 90, padding: 3, font: { size: 9 } },
        grid: { display: false, drawTicks: false },
        border: { display: true, color: '#777' },
        title: { display: true, text: 'Errors', padding: 0, font: { size: 10, weight: 'bold' } }
      },
      x2: { type: 'linear', min: -0.5, max: 19.5, display: false },
      y: Object.assign(axis({ min: 0, max: 388, step: 50, title: 'Instances', bold: true, w: 32, pad: 5 }),
        { border: { display: true, color: '#aaa' } })
    },
    plugins: {
      matlabBox: { off: true },
      panelTitle: { text: 'Error Histogram with 20 Bins', gap: 9 },
      insetLegend: { right: 6, top: 9, width: 63, first: 6, rowH: 10, last: 6, pad: 3, lineW: 22, gap: 4, size: 8 }
    }
  }
});

// H
const regPoints = regBand
  .concat(stackMinus1.map(y => [-1, y]))
  .concat(stackZero.map(y => [0, y]))
  .concat(stackHalf.map(y => [0.5, y]))
  .concat(stackOne.map(y => [1, y]));
panel({ col: 1, top: 960, plot: [423, 1003, 683, 1231], yW: 26, xH: 27 }, {
  type: 'scatter',
  data: { datasets: [
    { label: 'Data', data: pairs(regPoints), showLine: false, pointStyle: 'circle', pointRadius: 3.5,
      borderColor: '#222', borderWidth: 0.8, backgroundColor: 'rgba(0,0,0,0)', order: 2 },
    line('Fit', pairs(fitLine), '#0000ff', 2, 0),
    line('Y = T', pairs(identityLine), '#888', 0.8, 1, { borderDash: [1.5, 1.5] })
  ] },
  options: {
    scales: {
      x: axis({ min: -2.17, max: 6.69, step: 1, title: 'Target', bold: true, h: 27 }),
      y: axis({ min: -2.16, max: 6.72, step: 1, title: 'Output ~= 0.93*Target + 0.064', bold: true, w: 26 })
    },
    plugins: {
      panelTitle: { text: ': R=0.96052', gap: 7 },
      insetLegend: { left: 7, top: 6, width: 56, first: 7, rowH: 9.7, last: 6, pad: 4, lineW: 27, gap: 7, size: 8 }
    }
  }
});
</script>
</body>
</html>
